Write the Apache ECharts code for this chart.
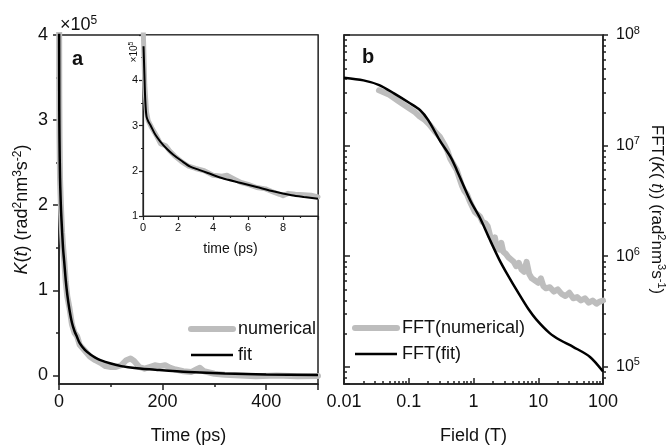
<!DOCTYPE html>
<html><head><meta charset="utf-8">
<script src="https://cdn.jsdelivr.net/npm/echarts@6/dist/echarts.min.js"></script>
<style>html,body{margin:0;padding:0;background:#fff}#c{width:667px;height:446px}</style>
</head><body><div id="c"></div>
<script>
// ---------- Data (panel a, values in units of 1e5 rad^2 nm^3 s^-2) ----------
const mainTime = [0, 0.5, 1, 2, 3, 4, 6, 8, 10, 13, 16, 20, 25, 30, 35, 40, 50, 60, 70, 80, 100, 120, 150, 190, 250, 320, 400, 500];
const mainFit  = [4.75, 3.15, 2.75, 2.32, 2.1, 1.93, 1.69, 1.48, 1.34, 1.12, 0.95, 0.78, 0.62, 0.52, 0.45, 0.38, 0.30, 0.25, 0.21, 0.18, 0.14, 0.11, 0.085, 0.065, 0.04, 0.022, 0.012, 0.005];
const numTime  = [0, 0.5, 1, 2, 3, 4, 6, 8, 10, 13, 16, 20, 25, 30, 35, 40, 50, 60, 70, 80, 90, 100, 110, 120, 130, 138, 145, 155, 165, 175, 185, 195, 205, 215, 225, 240, 255, 265, 272, 280, 300, 320, 350, 380, 420, 460, 500];
const numMain  = [5.3, 3.3, 2.8, 2.3, 2.12, 1.95, 1.68, 1.5, 1.36, 1.1, 0.93, 0.8, 0.6, 0.5, 0.46, 0.36, 0.29, 0.22, 0.18, 0.15, 0.11, 0.10, 0.10, 0.12, 0.18, 0.20, 0.17, 0.10, 0.08, 0.10, 0.12, 0.11, 0.12, 0.09, 0.07, 0.05, 0.04, 0.07, 0.09, 0.05, 0.02, 0.01, 0.0, -0.01, 0.0, -0.01, -0.005];

// inset (time in ps, values in 1e5)
const insetTime    = [0.03, 0.07, 0.13, 0.2, 0.3, 0.42, 0.7, 1.0, 1.4, 1.75, 2.2, 2.7, 3.2, 3.7, 4.5, 5.6, 6.5, 7.5, 8.5, 9.2, 10];
const insetFit     = [4.75, 4.26, 3.55, 3.2, 3.09, 3.01, 2.8, 2.64, 2.47, 2.35, 2.22, 2.09, 2.02, 1.95, 1.84, 1.73, 1.64, 1.54, 1.46, 1.42, 1.38];
const insetNumTime = [0, 0.05, 0.1, 0.2, 0.3, 0.5, 0.8, 1.0, 1.3, 1.5, 1.8, 2.2, 2.6, 3.0, 3.5, 4.0, 4.5, 4.8, 5.2, 5.6, 6.0, 6.5, 7.0, 7.5, 7.8, 8.0, 8.3, 8.7, 9.2, 9.6, 10];
const insetNum     = [5.3, 4.6, 3.9, 3.3, 3.1, 2.95, 2.75, 2.6, 2.55, 2.45, 2.33, 2.2, 2.1, 2.05, 2.0, 1.9, 1.88, 1.9, 1.82, 1.74, 1.7, 1.63, 1.6, 1.52, 1.48, 1.45, 1.5, 1.48, 1.47, 1.46, 1.42];

// ---------- Data (panel b) ----------
const fftField = [0.01, 0.02, 0.035, 0.06, 0.1, 0.15, 0.2, 0.3, 0.45, 0.55, 0.9, 1.25, 1.8, 2.5, 3.2, 5.2, 7, 9.3, 15, 22, 35, 63, 100];
const fftFit   = [4.11e7, 3.89e7, 3.53e7, 2.95e7, 2.45e7, 2.09e7, 1.70e7, 1.12e7, 7.76e6, 6.03e6, 3.16e6, 2.24e6, 1.40e6, 9.33e5, 7.16e5, 4.42e5, 3.35e5, 2.69e5, 2.02e5, 1.74e5, 1.51e5, 1.23e5, 9.08e4];
const fftNumField = [0.0347, 0.0501, 0.0708, 0.1, 0.126, 0.148, 0.178, 0.209, 0.251, 0.302, 0.355, 0.398, 0.437, 0.501, 0.55, 0.603, 0.661, 0.724, 0.794, 0.871, 0.955, 1.05, 1.15, 1.26, 1.38, 1.51, 1.66, 1.82, 2.0, 2.14, 2.29, 2.51, 2.69, 2.88, 3.16, 3.47, 3.8, 4.17, 4.57, 5.01, 5.5, 6.03, 6.61, 7.24, 7.94, 8.91, 10, 11, 12, 13.2, 15.1, 17.4, 20, 22.9, 26.3, 30.2, 34.7, 39.8, 45.7, 52.5, 60.3, 69.2, 79.4, 89.1, 100];
const fftNum = [3.16e7, 2.88e7, 2.51e7, 2.19e7, 2.0e7, 1.83e7, 1.70e7, 1.55e7, 1.35e7, 1.20e7, 1.02e7, 8.91e6, 7.59e6, 6.61e6, 6.03e6, 5.13e6, 4.37e6, 3.89e6, 3.63e6, 3.16e6, 2.82e6, 2.51e6, 2.40e6, 2.29e6, 2.04e6, 2.0e6, 1.86e6, 1.51e6, 1.38e6, 1.48e6, 1.20e6, 1.15e6, 1.32e6, 1.10e6, 1.05e6, 9.77e5, 9.33e5, 8.91e5, 8.13e5, 8.71e5, 7.59e5, 7.24e5, 8.91e5, 6.92e5, 6.31e5, 6.03e5, 5.75e5, 6.31e5, 5.37e5, 5.13e5, 5.25e5, 4.79e5, 5.01e5, 4.57e5, 4.37e5, 4.68e5, 4.17e5, 4.27e5, 3.98e5, 4.17e5, 3.80e5, 3.98e5, 3.72e5, 3.89e5, 3.98e5];

// ---------- Tick values ----------
const mainYTicks = [0, 1, 2, 3, 4];
const mainYMinor = [0.5, 1.5, 2.5, 3.5];
const fieldMinorTicks = [0.02,0.03,0.04,0.05,0.06,0.07,0.08,0.09, 0.2,0.3,0.4,0.5,0.6,0.7,0.8,0.9, 2,3,4,5,6,7,8,9, 20,30,40,50,60,70,80,90];
const fftMinorTicks = [8e4,9e4, 2e5,3e5,4e5,5e5,6e5,7e5,8e5,9e5, 2e6,3e6,4e6,5e6,6e6,7e6,8e6,9e6, 2e7,3e7,4e7,5e7,6e7,7e7,8e7,9e7];
const fftYMin = 7e4, fftYMax = 1e8;

// ---------- Style ----------
const FONT = '"Liberation Sans", Arial, sans-serif';
const AX = '#222';
const TXT = '#111';
const GRAY = '#bdbdbd';
const zip = (a, b) => a.map((v, i) => [v, b[i]]);
const lineSt = { color: AX, width: 1.5 };
const thin = { color: AX, width: 1.2 };
const lbl = (fs, extra) => Object.assign({ fontSize: fs, color: TXT, fontFamily: FONT }, extra || {});
const sup = fs => ({ fontSize: fs, lineHeight: fs, verticalAlign: 'top', fontFamily: FONT, color: TXT });
const ital = fs => ({ fontSize: fs, lineHeight: fs + 2, fontStyle: 'italic', fontFamily: FONT, color: TXT });
const noLine = { show: false, onZero: false };

const option = {
  animation: false,
  textStyle: { fontFamily: FONT },
  grid: [
    { left: 59, top: 35, width: 259, height: 349, show: true, borderColor: AX, borderWidth: 1.5, backgroundColor: 'rgba(0,0,0,0)', outerBoundsMode: 'none', containLabel: false },
    { left: 143, top: 35, width: 175, height: 181, show: true, borderColor: AX, borderWidth: 1.2, backgroundColor: '#fff', outerBoundsMode: 'none', containLabel: false },
    { left: 344, top: 35, width: 259, height: 349, show: true, borderColor: AX, borderWidth: 1.5, backgroundColor: 'rgba(0,0,0,0)', outerBoundsMode: 'none', containLabel: false }
  ],
  xAxis: [
    { gridIndex: 0, type: 'value', min: 0, max: 500, interval: 200,
      axisLine: { show: true, onZero: false, lineStyle: lineSt },
      axisTick: { show: true, length: 6, lineStyle: lineSt },
      minorTick: { show: true, splitNumber: 2, length: 3, lineStyle: lineSt },
      axisLabel: lbl(18, { margin: 9, showMaxLabel: false }),
      splitLine: { show: false }, minorSplitLine: { show: false },
      name: 'Time (ps)', nameLocation: 'middle', nameGap: 43, nameTextStyle: lbl(18) },
    { gridIndex: 1, type: 'value', min: 0, max: 10, interval: 2,
      axisLine: { show: true, onZero: false, lineStyle: thin },
      axisTick: { show: true, length: 4, lineStyle: thin },
      minorTick: { show: true, splitNumber: 2, length: 2, lineStyle: thin },
      axisLabel: lbl(11, { margin: 6, showMaxLabel: false }),
      splitLine: { show: false }, minorSplitLine: { show: false },
      name: 'time (ps)', nameLocation: 'middle', nameGap: 26, nameTextStyle: lbl(14) },
    { gridIndex: 2, type: 'log', logBase: 10, min: 0.01, max: 100,
      axisLine: { show: true, onZero: false, lineStyle: lineSt },
      axisTick: { show: true, inside: true, length: 6, lineStyle: lineSt },
      axisLabel: lbl(18, { margin: 9 }),
      splitLine: { show: false },
      name: 'Field (T)', nameLocation: 'middle', nameGap: 43, nameTextStyle: lbl(18) },
    { gridIndex: 2, type: 'value', min: -2, max: 2, position: 'bottom',
      axisLine: noLine, axisLabel: { show: false }, splitLine: { show: false },
      axisTick: { show: true, inside: true, length: 3, lineStyle: lineSt, customValues: fieldMinorTicks.map(Math.log10) } }
  ],
  yAxis: [
    { gridIndex: 0, type: 'value', min: -0.1, max: 4, position: 'left',
      axisLine: { show: true, onZero: false, lineStyle: lineSt },
      axisTick: { show: true, length: 6, lineStyle: lineSt, customValues: mainYTicks },
      axisLabel: lbl(18, { margin: 11, customValues: mainYTicks }),
      splitLine: { show: false },
      name: '{i|K}({i|t}) (rad{s|2}nm{s|3}s{s|-2})', nameLocation: 'middle', nameGap: 27, nameRotate: 90,
      nameTextStyle: lbl(18, { lineHeight: 20, rich: { i: ital(18), s: sup(12) } }) },
    { gridIndex: 0, type: 'value', min: -0.1, max: 4, position: 'left',
      axisLine: noLine, axisLabel: { show: false }, splitLine: { show: false },
      axisTick: { show: true, length: 3, lineStyle: lineSt, customValues: mainYMinor } },
    { gridIndex: 1, type: 'value', min: 1, max: 5, interval: 1, position: 'left',
      axisLine: { show: true, onZero: false, lineStyle: thin },
      axisTick: { show: true, length: 4, lineStyle: thin },
      minorTick: { show: true, splitNumber: 2, length: 2, lineStyle: thin },
      axisLabel: lbl(11, { margin: 5, showMaxLabel: false }),
      splitLine: { show: false }, minorSplitLine: { show: false } },
    { gridIndex: 2, type: 'log', logBase: 10, min: fftYMin, max: fftYMax, position: 'right',
      axisLine: { show: true, onZero: false, lineStyle: lineSt },
      axisTick: { show: true, length: 5, lineStyle: lineSt },
      axisLabel: { margin: 13, showMinLabel: false,
        formatter: v => '{b|10}{s|' + Math.round(Math.log10(v)) + '}',
        rich: { b: lbl(16, { lineHeight: 20 }), s: sup(11) } },
      splitLine: { show: false },
      name: 'FFT({i|K}( {i|t})) (rad{s|2}nm{s|3}s{s|-1})', nameLocation: 'middle', nameGap: 44, nameRotate: -90,
      nameTextStyle: lbl(17, { lineHeight: 20, rich: { i: ital(17), s: sup(11) } }) },
    { gridIndex: 2, type: 'log', logBase: 10, min: fftYMin, max: fftYMax, position: 'left',
      axisLine: { show: true, onZero: false, lineStyle: lineSt },
      axisTick: { show: true, inside: true, length: 6, lineStyle: lineSt },
      axisLabel: { show: false }, splitLine: { show: false } },
    { gridIndex: 2, type: 'value', min: Math.log10(fftYMin), max: Math.log10(fftYMax), position: 'right',
      axisLine: noLine, axisLabel: { show: false }, splitLine: { show: false },
      axisTick: { show: true, length: 3, lineStyle: lineSt, customValues: fftMinorTicks.map(Math.log10) } },
    { gridIndex: 2, type: 'value', min: Math.log10(fftYMin), max: Math.log10(fftYMax), position: 'left',
      axisLine: noLine, axisLabel: { show: false }, splitLine: { show: false },
      axisTick: { show: true, inside: true, length: 3, lineStyle: lineSt, customValues: fftMinorTicks.map(Math.log10) } }
  ],
  legend: [
    { left: 188, top: 320, orient: 'vertical', padding: 0, itemWidth: 42, itemHeight: 14, itemGap: 8, selectedMode: false,
      itemStyle: { opacity: 0, borderWidth: 0 },
      textStyle: lbl(18), data: [ { name: 'numerical', lineStyle: { width: 6 } }, { name: 'fit', lineStyle: { width: 2.5 } } ] },
    { left: 352, top: 319, orient: 'vertical', padding: 0, itemWidth: 42, itemHeight: 14, itemGap: 8, selectedMode: false,
      itemStyle: { opacity: 0, borderWidth: 0 },
      textStyle: lbl(18), data: [ { name: 'FFT(numerical)', lineStyle: { width: 6 } }, { name: 'FFT(fit)', lineStyle: { width: 2.5 } } ] }
  ],
  series: [
    { name: 'numerical', type: 'line', xAxisIndex: 0, yAxisIndex: 0, data: zip(numTime, numMain), symbol: 'none', showSymbol: false,
      lineStyle: { color: GRAY, width: 6, join: 'round', cap: 'round' }, itemStyle: { color: GRAY }, z: 2 },
    { name: 'fit', type: 'line', xAxisIndex: 0, yAxisIndex: 0, data: zip(mainTime, mainFit), symbol: 'none', showSymbol: false, smooth: 0.3,
      lineStyle: { color: '#000', width: 2.5 }, itemStyle: { color: '#000' }, z: 3 },
    { name: 'inset numerical', type: 'line', xAxisIndex: 1, yAxisIndex: 2, data: zip(insetNumTime, insetNum), symbol: 'none', showSymbol: false,
      lineStyle: { color: GRAY, width: 5, join: 'round', cap: 'round' }, itemStyle: { color: GRAY }, z: 4 },
    { name: 'inset fit', type: 'line', xAxisIndex: 1, yAxisIndex: 2, data: zip(insetTime, insetFit), symbol: 'none', showSymbol: false, smooth: 0.3,
      lineStyle: { color: '#000', width: 2 }, itemStyle: { color: '#000' }, z: 5 },
    { name: 'FFT(numerical)', type: 'line', xAxisIndex: 2, yAxisIndex: 3, data: zip(fftNumField, fftNum), symbol: 'none', showSymbol: false,
      lineStyle: { color: GRAY, width: 6, join: 'round', cap: 'round' }, itemStyle: { color: GRAY }, z: 2 },
    { name: 'FFT(fit)', type: 'line', xAxisIndex: 2, yAxisIndex: 3, data: zip(fftField, fftFit), symbol: 'none', showSymbol: false, smooth: 0.3,
      lineStyle: { color: '#000', width: 2.5 }, itemStyle: { color: '#000' }, z: 3 }
  ],
  graphic: [
    { type: 'text', x: 60, y: 25, z: 100, style: { text: '×10{s|5}', fontSize: 18, lineHeight: 20, fontFamily: FONT, fill: TXT, verticalAlign: 'middle', rich: { s: sup(12) } } },
    { type: 'text', x: 72, y: 59, z: 100, style: { text: 'a', fontSize: 20, fontWeight: 'bold', fontFamily: FONT, fill: TXT, verticalAlign: 'middle' } },
    { type: 'text', x: 362, y: 57, z: 100, style: { text: 'b', fontSize: 20, fontWeight: 'bold', fontFamily: FONT, fill: TXT, verticalAlign: 'middle' } },
    { type: 'text', x: 134, y: 52, rotation: Math.PI / 2, z: 100, style: { text: '×10{s|5}', fontSize: 10, lineHeight: 12, fontFamily: FONT, fill: TXT, align: 'center', verticalAlign: 'middle', rich: { s: sup(7) } } }
  ]
};

const chart = echarts.init(document.getElementById('c'), null, { renderer: 'canvas' });
chart.setOption(option);
</script></body></html>
